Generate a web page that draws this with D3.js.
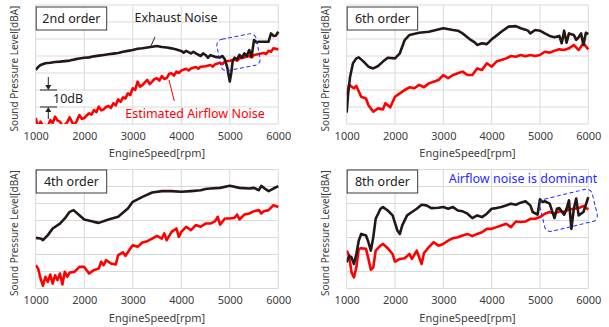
<!DOCTYPE html>
<html><head><meta charset="utf-8">
<script src="https://cdn.jsdelivr.net/npm/d3@7"></script>
<style>
html,body{margin:0;padding:0;background:#fff;}
svg{display:block;font-family:"Noto Sans","Open Sans",sans-serif;}
</style></head>
<body><svg id="chart" width="609" height="327"></svg>
<script>
// ---------- DATA ----------
const rpmTicks = [1000, 2000, 3000, 4000, 5000, 6000];
const dbGrid = [0, 10, 20, 30, 40, 50, 60, 70];
const xTitle = "EngineSpeed[rpm]";
const yTitle = "Sound Pressure Level[dBA]";
const orderLabels = ["2nd order", "6th order", "4th order", "8th order"];

// [rpm, dB (relative)]
const ord2Exhaust = [[1000,31.8],[1050,33.5],[1100,34.7],[1200,35.7],[1300,36],[1400,36.5],[1500,36.7],[1600,37],[1700,37.3],[1800,38],[1900,38.5],[2000,39],[2100,39.2],[2200,39.8],[2300,40.2],[2400,40.6],[2500,41],[2600,41.4],[2700,41.8],[2800,42.5],[2900,43],[3000,43.5],[3100,44.3],[3200,44.6],[3300,45],[3400,45.4],[3500,45.9],[3600,45.3],[3700,45],[3800,44.5],[3900,43.8],[4000,43],[4050,42],[4100,43],[4200,41.5],[4250,42.5],[4300,41.6],[4400,40],[4450,41.5],[4500,40.6],[4550,39],[4600,40.5],[4700,39.5],[4800,39.2],[4850,40],[4900,38],[4950,33],[5000,25],[5030,30],[5060,37],[5100,39],[5150,38],[5200,40.6],[5250,39],[5300,41.5],[5350,40],[5400,43.5],[5450,39.6],[5500,49.4],[5550,48],[5600,48.4],[5700,48.4],[5800,48.4],[5850,53.3],[5900,51.8],[5950,52],[6000,54.3]];
const ord2Airflow = [[1000,3.5],[1050,-2],[1100,1.4],[1150,-1],[1200,-0.6],[1250,-1.5],[1300,2.3],[1350,0.5],[1400,4.3],[1450,2],[1500,1.4],[1550,-1],[1600,-0.6],[1650,1],[1700,3.9],[1750,1],[1800,-0.6],[1850,2],[1900,5.3],[1950,3],[2000,3.5],[2050,5],[2100,6.3],[2150,5.5],[2200,8.2],[2250,7],[2300,10.2],[2350,8],[2400,8.6],[2450,10],[2500,10.6],[2550,9.5],[2600,12.2],[2650,11],[2700,14.5],[2750,13],[2800,15.7],[2850,15],[2900,18],[2950,17],[3000,21],[3050,20],[3100,24.9],[3150,22],[3200,22.9],[3250,24.5],[3300,25.9],[3350,23.5],[3400,24.9],[3450,26.5],[3500,26.9],[3550,25.5],[3600,28.2],[3650,26.5],[3700,27],[3750,29.5],[3800,29.8],[3850,28.5],[3900,30.8],[3950,30],[4000,31.4],[4100,32.5],[4150,31.5],[4200,32.7],[4300,33.5],[4350,32.5],[4400,33.7],[4500,34],[4600,34.7],[4650,33.8],[4700,35.2],[4800,36],[4850,35.2],[4900,36.8],[5000,37.2],[5100,38],[5150,37.2],[5200,38.6],[5300,39.2],[5400,40],[5450,39.2],[5500,40.6],[5600,41.2],[5700,41.8],[5750,41.2],[5800,43.1],[5850,42.5],[5900,44.5],[6000,43.9]];

const ord6Exhaust = [[1000,6.7],[1030,18],[1070,27.8],[1130,35.7],[1200,38.6],[1250,39.2],[1350,36.7],[1450,33.7],[1550,32.7],[1650,34.1],[1750,36.7],[1850,39],[2000,38.6],[2100,41.6],[2200,49.4],[2300,52.4],[2500,53.7],[2700,54.3],[2850,55.3],[3000,56.3],[3200,55.3],[3300,54.9],[3400,53.3],[3550,49.8],[3650,48],[3700,46.5],[3800,47.5],[3900,47],[4000,49.8],[4100,52],[4200,54.3],[4350,57.3],[4500,57.6],[4600,56.3],[4700,55.5],[4750,54.9],[4800,53.3],[4900,55.3],[5000,54.9],[5100,53.3],[5200,51.8],[5300,51],[5400,51.8],[5450,47.5],[5500,54.9],[5550,47.8],[5600,53.3],[5700,52.4],[5750,49.5],[5800,51],[5850,53.3],[5900,46.5],[5950,53.7],[6000,52.9]];
const ord6Airflow = [[1000,17],[1050,23],[1100,22],[1150,21],[1200,22.4],[1300,16],[1400,15],[1450,11],[1550,7.3],[1650,9.2],[1750,8.6],[1800,12.2],[1900,9.8],[2000,16],[2100,18],[2200,20],[2300,21.6],[2400,21],[2500,23],[2600,21.6],[2700,23.9],[2800,24.9],[2900,25.9],[3000,28.8],[3100,26.9],[3200,28.8],[3300,29.8],[3400,30.8],[3500,28.8],[3600,28.8],[3700,32.7],[3800,31.8],[3900,35.7],[4000,33.7],[4100,36.7],[4200,37.6],[4300,38.6],[4400,40],[4500,39.6],[4600,40.6],[4700,39.8],[4800,40.6],[4900,40],[5000,40.6],[5100,42.5],[5200,42],[5300,43.1],[5400,43.9],[5500,43.5],[5600,44.5],[5700,46.5],[5800,43.5],[5900,47.5],[6000,43.9]];

const ord4Exhaust = [[1000,29.8],[1100,29.4],[1150,28.4],[1250,31.4],[1350,35.3],[1500,38.2],[1600,41.2],[1700,45.1],[1780,46.1],[1900,43.1],[2000,40.6],[2200,39.2],[2300,38.6],[2500,40.6],[2700,42.2],[2900,47.1],[3000,51],[3200,53.9],[3400,56.5],[3600,57.3],[3800,57.3],[4000,56.9],[4200,57.3],[4400,57.8],[4500,58.5],[4600,58.8],[4800,59.2],[5000,60.4],[5200,59.2],[5400,58.8],[5500,59.2],[5600,57.8],[5650,60.4],[5700,59.2],[5800,57.3],[5900,58.8],[6000,60.2]];
const ord4Airflow = [[1000,13.7],[1050,11.8],[1100,5.9],[1150,1.6],[1200,6.9],[1250,3.9],[1300,8.2],[1350,2.9],[1400,7.8],[1450,4.9],[1500,8.8],[1550,2.4],[1600,9.8],[1650,6.9],[1700,9.4],[1800,9.8],[1900,12.7],[2000,12.7],[2100,8.8],[2200,10.8],[2300,11.8],[2350,15.7],[2400,13.7],[2450,16.7],[2550,14.7],[2650,14.1],[2700,19.6],[2800,21.2],[2850,19.2],[2950,23.5],[3000,25.5],[3100,24.5],[3200,27.1],[3300,27.8],[3400,29.4],[3500,31],[3600,29.4],[3650,32.4],[3700,28.4],[3800,33.3],[3900,35.3],[3950,30.4],[4000,33.3],[4100,36.3],[4200,34.3],[4300,37.3],[4400,36.3],[4500,38.2],[4600,38.2],[4700,39.6],[4750,42.2],[4800,37.6],[4900,41.2],[5000,41.2],[5100,41.6],[5150,43.5],[5200,40.6],[5300,43.5],[5400,44.1],[5500,45.5],[5600,46.1],[5650,44.1],[5700,45.5],[5800,46.1],[5900,49],[6000,48]];

const ord8Exhaust = [[1000,15.4],[1050,19.3],[1100,18.3],[1150,14.4],[1200,20.3],[1250,28.2],[1300,32.1],[1400,31.2],[1450,27.2],[1500,22.3],[1550,30.2],[1600,41],[1700,46.9],[1750,47.9],[1850,45.9],[1950,43],[2050,34.1],[2100,32.1],[2150,37.1],[2250,43],[2350,45],[2450,46.9],[2550,49.3],[2650,48.9],[2750,47.3],[2900,47.5],[3000,47.9],[3100,46.9],[3200,47.9],[3300,45.9],[3400,45.4],[3500,44],[3600,41.4],[3700,43],[3800,42],[3900,44],[4000,46.9],[4100,47.3],[4200,47.9],[4400,49.9],[4500,49.3],[4600,50.5],[4700,51.3],[4800,48.9],[4850,45],[4950,43.4],[5000,52.5],[5050,50.9],[5100,51.3],[5200,49.9],[5300,41.4],[5350,46.9],[5400,47.3],[5500,43.4],[5550,46.9],[5600,51.9],[5650,35.1],[5700,46.9],[5750,52.9],[5800,43],[5900,45],[6000,53.8]];
const ord8Airflow = [[1000,22.3],[1050,19.3],[1100,9.5],[1150,6.5],[1200,12.4],[1250,23.3],[1300,23.7],[1400,23.3],[1450,17.4],[1500,11],[1550,12.4],[1600,22.3],[1700,25.2],[1750,26.2],[1850,23.7],[1950,20.3],[2000,15.8],[2100,17.4],[2200,17.8],[2300,20.3],[2350,17.4],[2450,22.3],[2550,14.4],[2600,20.9],[2700,24.3],[2800,27.2],[2900,25.2],[3000,26.2],[3100,28.2],[3200,29.6],[3300,30.2],[3400,31.2],[3500,32.1],[3600,30.8],[3700,32.1],[3800,33.1],[3900,35.1],[4000,35.1],[4100,36.1],[4200,37.1],[4300,38.1],[4400,36.1],[4500,39.4],[4600,39.1],[4700,39.4],[4800,41],[4900,41],[5000,42],[5100,44],[5200,45],[5300,44],[5400,45.4],[5500,45],[5600,46.5],[5700,46.9],[5800,47.3],[5900,48.5],[6000,46.5]];

const exhaustSeries = [ord2Exhaust, ord6Exhaust, ord4Exhaust, ord8Exhaust];
const airflowSeries = [ord2Airflow, ord6Airflow, ord4Airflow, ord8Airflow];

// ---------- LAYOUT ----------
const panels = [
  {x0: 35.7, x1: 278.3, y0: 5, y1: 124, yt: 18},
  {x0: 346.7, x1: 588.3, y0: 5, y1: 124, yt: 329},
  {x0: 35.7, x1: 278.3, y0: 169.5, y1: 288.5, yt: 18},
  {x0: 346.7, x1: 588.3, y0: 169.5, y1: 288.5, yt: 329}
];
const BLACK = "#231815", RED = "#ff0000", BLUE = "#2a2aff", GRID = "#d9d9d9", TXT = "#404040";

const svg = d3.select("#chart");
const defs = svg.append("defs");

panels.forEach((p, i) => {
  const x = d3.scaleLinear().domain([1000, 6000]).range([p.x0, p.x1]);
  const y = d3.scaleLinear().domain([0, 70]).range([p.y1, p.y0]);
  p.x = x; p.y = y;
  const g = svg.append("g");

  // gridlines
  g.append("g").selectAll("line.h").data(dbGrid).join("line")
    .attr("x1", p.x0).attr("x2", p.x1)
    .attr("y1", d => y(d)).attr("y2", d => y(d))
    .attr("stroke", GRID).attr("stroke-width", 1);
  g.append("g").selectAll("line.v").data(rpmTicks).join("line")
    .attr("x1", d => x(d)).attr("x2", d => x(d))
    .attr("y1", p.y0).attr("y2", p.y1)
    .attr("stroke", GRID).attr("stroke-width", 1);

  // x axis labels
  const ax = d3.axisBottom(x).tickValues(rpmTicks).tickSize(0).tickPadding(8).tickFormat(d3.format("d"));
  const axg = g.append("g").attr("transform", `translate(0,${p.y1})`).call(ax);
  axg.select(".domain").remove();
  axg.selectAll("text").attr("font-size", 11).attr("fill", TXT).attr("font-family", "Noto Sans");

  g.append("text").attr("x", (p.x0 + p.x1) / 2).attr("y", p.y1 + 33)
    .attr("text-anchor", "middle").attr("font-size", 11).attr("fill", TXT).text(xTitle);

  g.append("text").attr("transform", `translate(${p.yt},${(p.y0 + p.y1) / 2 + 4}) rotate(-90)`)
    .attr("text-anchor", "middle").attr("font-size", 10).attr("fill", TXT).text(yTitle);

  // clip
  defs.append("clipPath").attr("id", "clip" + i).append("rect")
    .attr("x", p.x0).attr("y", p.y0 - 10).attr("width", p.x1 - p.x0 + 3).attr("height", p.y1 - p.y0 + 10);

  const line = d3.line().x(d => x(d[0])).y(d => y(d[1]));
  const lg = g.append("g").attr("clip-path", `url(#clip${i})`);
  lg.append("path").datum(airflowSeries[i]).attr("d", line)
    .attr("fill", "none").attr("stroke", RED).attr("stroke-width", 2.6).attr("stroke-linejoin", "round");
  lg.append("path").datum(exhaustSeries[i]).attr("d", line)
    .attr("fill", "none").attr("stroke", BLACK).attr("stroke-width", 2.6).attr("stroke-linejoin", "round");

  // order label box
  const bw = 70.5, bh = 23;
  const by = i < 2 ? p.y0 + 2 : p.y0 + 0.5;
  g.append("rect").attr("x", p.x0 + 0.5).attr("y", by).attr("width", bw).attr("height", bh)
    .attr("fill", "#fff").attr("stroke", "#3a3a3a").attr("stroke-width", 1);
  g.append("text").attr("x", p.x0 + 0.5 + bw / 2).attr("y", by + bh / 2 + 4.5)
    .attr("text-anchor", "middle").attr("font-size", 12.5).attr("fill", "#222").text(orderLabels[i]);
});

// ---------- ANNOTATIONS ----------
const P1 = panels[0], P4 = panels[3];
// Exhaust Noise label
svg.append("text").attr("x", 176).attr("y", 21.5).attr("text-anchor", "middle")
  .attr("font-size", 12.5).attr("fill", "#222").text("Exhaust Noise");
svg.append("line").attr("x1", 155).attr("y1", 37).attr("x2", 150.7).attr("y2", 46.5)
  .attr("stroke", "#222").attr("stroke-width", 1);
// Estimated Airflow Noise label
svg.append("text").attr("x", 195).attr("y", 117.5).attr("text-anchor", "middle")
  .attr("font-size", 12.5).attr("fill", RED).text("Estimated Airflow Noise");
svg.append("line").attr("x1", 169).attr("y1", 80).attr("x2", 174.3).attr("y2", 101)
  .attr("stroke", RED).attr("stroke-width", 1);

// 10dB scale marker
const yA = P1.y(20), yB = P1.y(10), ax0 = 48.3;
svg.append("rect").attr("x", 38).attr("y", yA + 1).attr("width", 50).attr("height", yB - yA - 2).attr("fill", "#fff");
[yA, yB].forEach(v => svg.append("line").attr("x1", 40).attr("x2", 57).attr("y1", v).attr("y2", v)
  .attr("stroke", "#222").attr("stroke-width", 1));
svg.append("line").attr("x1", ax0).attr("x2", ax0).attr("y1", yA - 13).attr("y2", yA - 4).attr("stroke", "#222");
svg.append("path").attr("d", `M${ax0 - 3},${yA - 5}L${ax0 + 3},${yA - 5}L${ax0},${yA}Z`).attr("fill", "#222");
svg.append("line").attr("x1", ax0).attr("x2", ax0).attr("y1", yB + 4).attr("y2", yB + 12).attr("stroke", "#222");
svg.append("path").attr("d", `M${ax0 - 3},${yB + 5}L${ax0 + 3},${yB + 5}L${ax0},${yB}Z`).attr("fill", "#222");
svg.append("text").attr("x", 53).attr("y", (yA + yB) / 2 + 4.5).attr("font-size", 12.5).attr("fill", "#222").text("10dB");

// blue dashed highlight boxes
function hiBox(p, rpm, db, w, h, ang) {
  svg.append("rect").attr("x", -w / 2).attr("y", -h / 2).attr("width", w).attr("height", h)
    .attr("rx", 6).attr("ry", 6)
    .attr("transform", `translate(${p.x(rpm)},${p.y(db)}) rotate(${ang})`)
    .attr("fill", "none").attr("stroke", BLUE).attr("stroke-width", 1).attr("stroke-dasharray", "4,2.5");
}
hiBox(P1, 5180, 42.2, 40, 32, -11);
hiBox(P4, 5590, 46, 54, 33, -13.5);
svg.append("text").attr("x", 523).attr("y", 182.5).attr("text-anchor", "middle")
  .attr("font-size", 12.5).attr("fill", BLUE).text("Airflow noise is dominant");
</script></body></html>
